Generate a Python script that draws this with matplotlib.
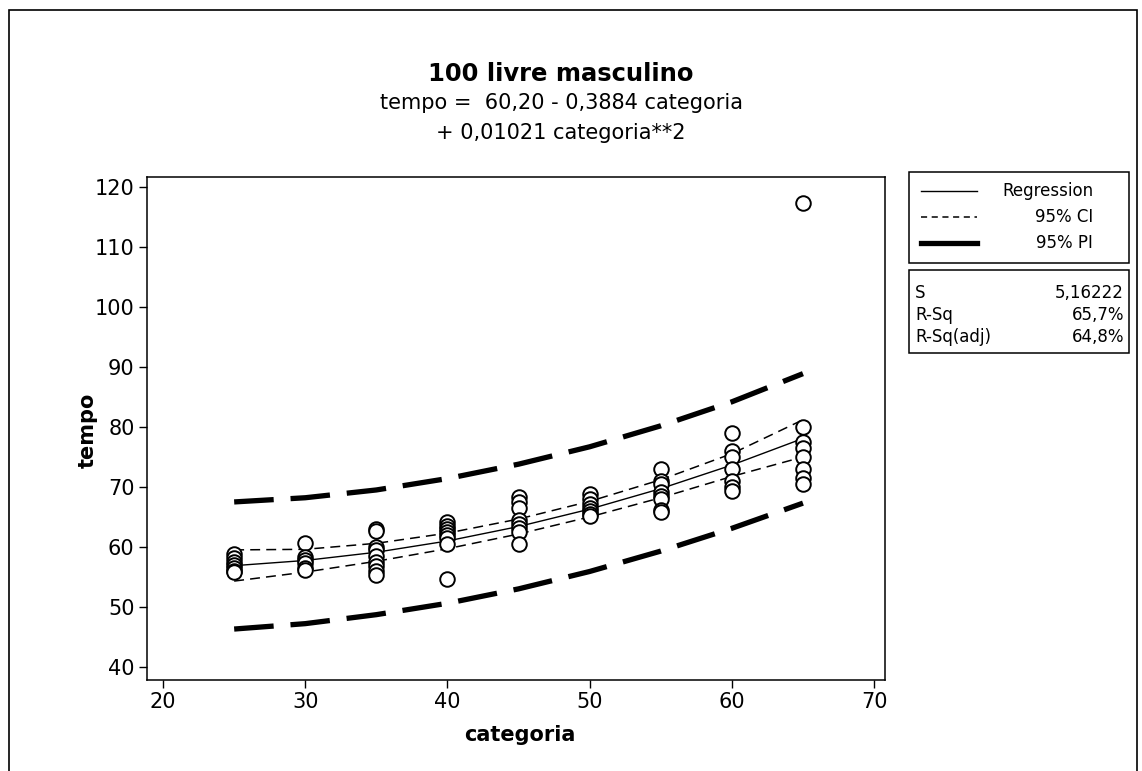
import matplotlib
matplotlib.use("Agg")
import matplotlib.pyplot as plt
from matplotlib.lines import Line2D
from matplotlib.patches import Rectangle

plt.rcParams['font.family'] = ['DejaVu Sans']

# ---- data ----
categories = [25, 30, 35, 40, 45, 50, 55, 60, 65]
fit = [56.87, 57.74, 59.11, 60.99, 63.40, 66.30, 69.72, 73.65, 78.09]
ci_low = [54.3, 55.8, 57.6, 59.7, 62.15, 65.0, 68.2, 71.75, 75.0]
ci_high = [59.5, 59.6, 60.6, 62.3, 64.65, 67.6, 71.2, 75.55, 81.2]
pi_low = [46.3, 47.2, 48.7, 50.6, 53.0, 55.9, 59.3, 63.1, 67.3]
pi_high = [67.5, 68.2, 69.5, 71.4, 73.8, 76.7, 80.2, 84.2, 88.9]

obs_25 = [58.8, 58.2, 57.5, 57.0, 56.5, 56.0, 55.8]
obs_30 = [60.7, 58.3, 57.8, 57.3, 56.5, 56.2]
obs_35 = [63.0, 62.6, 60.0, 59.5, 58.5, 57.5, 56.8, 56.0, 55.3]
obs_40 = [64.2, 63.5, 63.0, 62.5, 62.0, 61.5, 60.5, 54.7]
obs_45 = [68.3, 67.5, 66.5, 64.5, 63.8, 63.2, 62.5, 60.5]
obs_50 = [68.8, 68.0, 67.2, 66.5, 66.0, 65.5, 65.2]
obs_55 = [73.0, 71.0, 70.5, 69.2, 68.5, 68.0, 66.2, 65.8]
obs_60 = [79.0, 76.0, 75.0, 73.0, 71.0, 70.0, 69.3]
obs_65 = [117.3, 80.0, 77.5, 76.5, 75.0, 73.0, 71.5, 70.5]
observations = {25: obs_25, 30: obs_30, 35: obs_35, 40: obs_40, 45: obs_45,
                50: obs_50, 55: obs_55, 60: obs_60, 65: obs_65}

x_ticks = [20, 30, 40, 50, 60, 70]
y_ticks = [40, 50, 60, 70, 80, 90, 100, 110, 120]

title = "100 livre masculino"
eq_line1 = "tempo =  60,20 - 0,3884 categoria"
eq_line2 = "+ 0,01021 categoria**2"
legend_labels = ["Regression", "95% CI", "95% PI"]
stat_names = ["S", "R-Sq", "R-Sq(adj)"]
stat_values = ["5,16222", "65,7%", "64,8%"]

W, H = 1142, 771
fig = plt.figure(figsize=(W / 100, H / 100), dpi=100)

def fx(px):
    return px / W

def fy(py):
    return 1 - py / H

# outer frame (bottom edge lies outside the picture, as in the scan)
fig.patches.append(Rectangle((fx(9), fy(780)), fx(1137) - fx(9), fy(10) - fy(780),
                             transform=fig.transFigure, fill=False, lw=1.2, ec='black',
                             clip_on=False))

ax = fig.add_axes([fx(147), fy(680), fx(885) - fx(147), fy(177) - fy(680)])

xs_sc, ys_sc = [], []
for c in categories:
    for v in observations[c]:
        xs_sc.append(c)
        ys_sc.append(v)
ax.scatter(xs_sc, ys_sc, s=110, facecolors='white', edgecolors='black', linewidths=1.4, zorder=3)

ax.plot(categories, fit, color='black', lw=1.0, zorder=2)
ax.plot(categories, ci_low, color='black', lw=1.1, dashes=(6.5, 4), zorder=2)
ax.plot(categories, ci_high, color='black', lw=1.1, dashes=(6.5, 4), zorder=2)
ax.plot(categories, pi_low, color='black', lw=3.8, dashes=(7.5, 3.2), zorder=2)
ax.plot(categories, pi_high, color='black', lw=3.8, dashes=(7.5, 3.2), zorder=2)

ax.set_xlim(18.87, 70.77)
ax.set_ylim(37.8, 121.7)
ax.set_xticks(x_ticks)
ax.set_yticks(y_ticks)
ax.tick_params(direction='out', length=6, width=1, labelsize=15, pad=3)
for s in ax.spines.values():
    s.set_linewidth(1.1)

fig.text(fx(88), fy(430), "tempo", rotation=90, ha='center', va='center',
         fontsize=15, fontweight='bold')
fig.text(fx(520), fy(735), "categoria", ha='center', va='center',
         fontsize=15, fontweight='bold')

fig.text(fx(561), fy(74), title, ha='center', va='center', fontsize=17.5, fontweight='bold')
fig.text(fx(561), fy(103), eq_line1, ha='center', va='center', fontsize=15)
fig.text(fx(561), fy(133), eq_line2, ha='center', va='center', fontsize=15)

# legend box
fig.patches.append(Rectangle((fx(909), fy(263)), fx(1129) - fx(909), fy(172) - fy(263),
                             transform=fig.transFigure, fill=False, lw=1.1, ec='black'))
leg_styles = [dict(lw=1.0), dict(lw=1.1, dashes=(4, 3)), dict(lw=3.8)]
leg_y = [191, 217, 243]
for lab, st, yy in zip(legend_labels, leg_styles, leg_y):
    fig.add_artist(Line2D([fx(921), fx(977)], [fy(yy), fy(yy)], color='black',
                          transform=fig.transFigure, **st))
    fig.text(fx(1093), fy(yy), lab, ha='right', va='center', fontsize=12)

# stats box
fig.patches.append(Rectangle((fx(909), fy(353)), fx(1129) - fx(909), fy(270) - fy(353),
                             transform=fig.transFigure, fill=False, lw=1.1, ec='black'))
st_y = [293, 315, 337]
for n, v, yy in zip(stat_names, stat_values, st_y):
    fig.text(fx(915), fy(yy), n, ha='left', va='center', fontsize=12)
    fig.text(fx(1124), fy(yy), v, ha='right', va='center', fontsize=12)

fig.savefig("out.png", dpi=100)
